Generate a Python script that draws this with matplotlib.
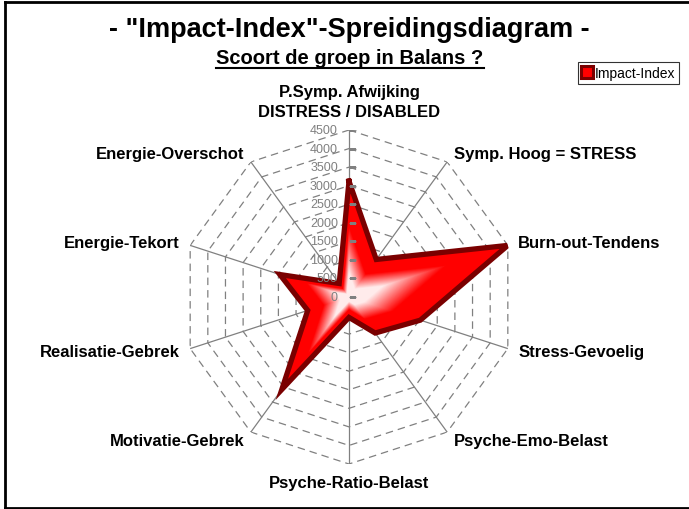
import numpy as np
import matplotlib
matplotlib.use("Agg")
import matplotlib.pyplot as plt
from matplotlib.lines import Line2D
from matplotlib.colors import to_rgb

plt.rcParams['font.family'] = ['Liberation Sans', 'DejaVu Sans']

# Data
categories = ["P.Symp. Afwijking\nDISTRESS / DISABLED", "Symp. Hoog = STRESS",
              "Burn-out-Tendens", "Stress-Gevoelig", "Psyche-Emo-Belast",
              "Psyche-Ratio-Belast", "Motivatie-Gebrek", "Realisatie-Gebrek",
              "Energie-Tekort", "Energie-Overschot"]
impact = [3120, 1250, 4500, 2020, 1200, 550, 3080, 1170, 1960, 450]
levels = [0, 500, 1000, 1500, 2000, 2500, 3000, 3500, 4000, 4500]
series_name = "Impact-Index"

W, H = 689, 510
fig = plt.figure(figsize=(W / 100, H / 100), dpi=100)

# polar axes: centre (349, 298) px, radius 167 px
cx, cy, rad = 349, 298, 167
ax = fig.add_axes([(cx - rad) / W, (H - cy - rad) / H, 2 * rad / W, 2 * rad / H],
                  projection='polar')
ax.set_theta_zero_location('N')
ax.set_theta_direction(-1)
ax.set_ylim(0, levels[-1])
ax.grid(False)
ax.spines['polar'].set_visible(False)
ax.set_xticks([])
ax.set_yticks([])
ax.patch.set_visible(False)

n = len(categories)
theta = np.arange(n) * 2 * np.pi / n
theta_c = np.append(theta, theta[0])
grey = '#808080'

# dashed polygon gridlines
for lv in levels[1:]:
    ax.plot(theta_c, [lv] * (n + 1), color=grey, lw=0.9, ls=(0, (6, 4)), zorder=1)
# spokes
for t in theta:
    ax.plot([t, t], [0, levels[-1]], color=grey, lw=0.9, zorder=1)

# filled shape with gradient: nested scaled copies, red outside -> white inside
vals = np.array(impact + impact[:1], dtype=float)
red = np.array(to_rgb('#ff0000'))
white = np.array([1.0, 1.0, 1.0])
for k in np.linspace(1, 0.02, 70):
    f = np.clip((0.62 - k) / 0.4, 0, 1) * 0.92
    col = red * (1 - f) + white * f
    ax.fill(theta_c, vals * k, color=col, lw=0, zorder=2)
ax.plot(theta_c, vals, color='#7a0000', lw=3.8, solid_joinstyle='miter', zorder=3)

# value axis on the top spoke
ax.plot([0] * len(levels), levels, ls='none', marker=1, markersize=5,
        color=grey, mew=0.9, zorder=4)
for lv in levels:
    ax.annotate(str(lv), xy=(0, lv), xytext=(-8, 0), textcoords='offset points',
                ha='right', va='center', fontsize=9, color=grey, zorder=4)

# category labels
r_lab = levels[-1] * 1.065
for t, lab in zip(theta, categories):
    s, c = np.sin(t), np.cos(t)
    ha = 'left' if s > 0.1 else ('right' if s < -0.1 else 'center')
    va = 'bottom' if c > 0.95 else ('top' if c < -0.95 else 'center')
    ax.text(t, r_lab, lab, ha=ha, va=va, fontsize=12, fontweight='bold',
            linespacing=1.45)

# titles
fig.text(349 / W, 1 - 30 / H, '- "Impact-Index"-Spreidingsdiagram -',
         ha='center', va='center', fontsize=19.5, fontweight='bold')
sub = fig.text(350 / W, 1 - 58 / H, 'Scoort de groep in Balans ?',
               ha='center', va='center', fontsize=14.5, fontweight='bold')
fig.canvas.draw()
bb = sub.get_window_extent()
uy = (bb.y0 - 1) / H
fig.add_artist(Line2D([bb.x0 / W, bb.x1 / W], [uy, uy], color='black', lw=1.5,
                      transform=fig.transFigure))

# legend
handle = Line2D([], [], ls='none', marker='s', markersize=8,
                markerfacecolor='#ff0000', markeredgecolor='#7a0000', mew=2.2)
leg = fig.legend([handle], [series_name], loc='upper left',
                 bbox_to_anchor=(578 / W, 1 - 63 / H), fontsize=10,
                 frameon=True, fancybox=False, handlelength=0.7,
                 handletextpad=0.2, borderpad=0.3, borderaxespad=0)
leg.get_frame().set_edgecolor('black')
leg.get_frame().set_linewidth(0.8)

# chart border
for xs, ys in [([5 / W, 5 / W], [1 - 3 / H, 1 / H]),
               ([5 / W, 1], [1 - 3 / H, 1 - 3 / H]),
               ([5 / W, 1], [1 / H, 1 / H])]:
    fig.add_artist(Line2D(xs, ys, color='black', lw=2, transform=fig.transFigure))

fig.savefig('out.png', dpi=100)
